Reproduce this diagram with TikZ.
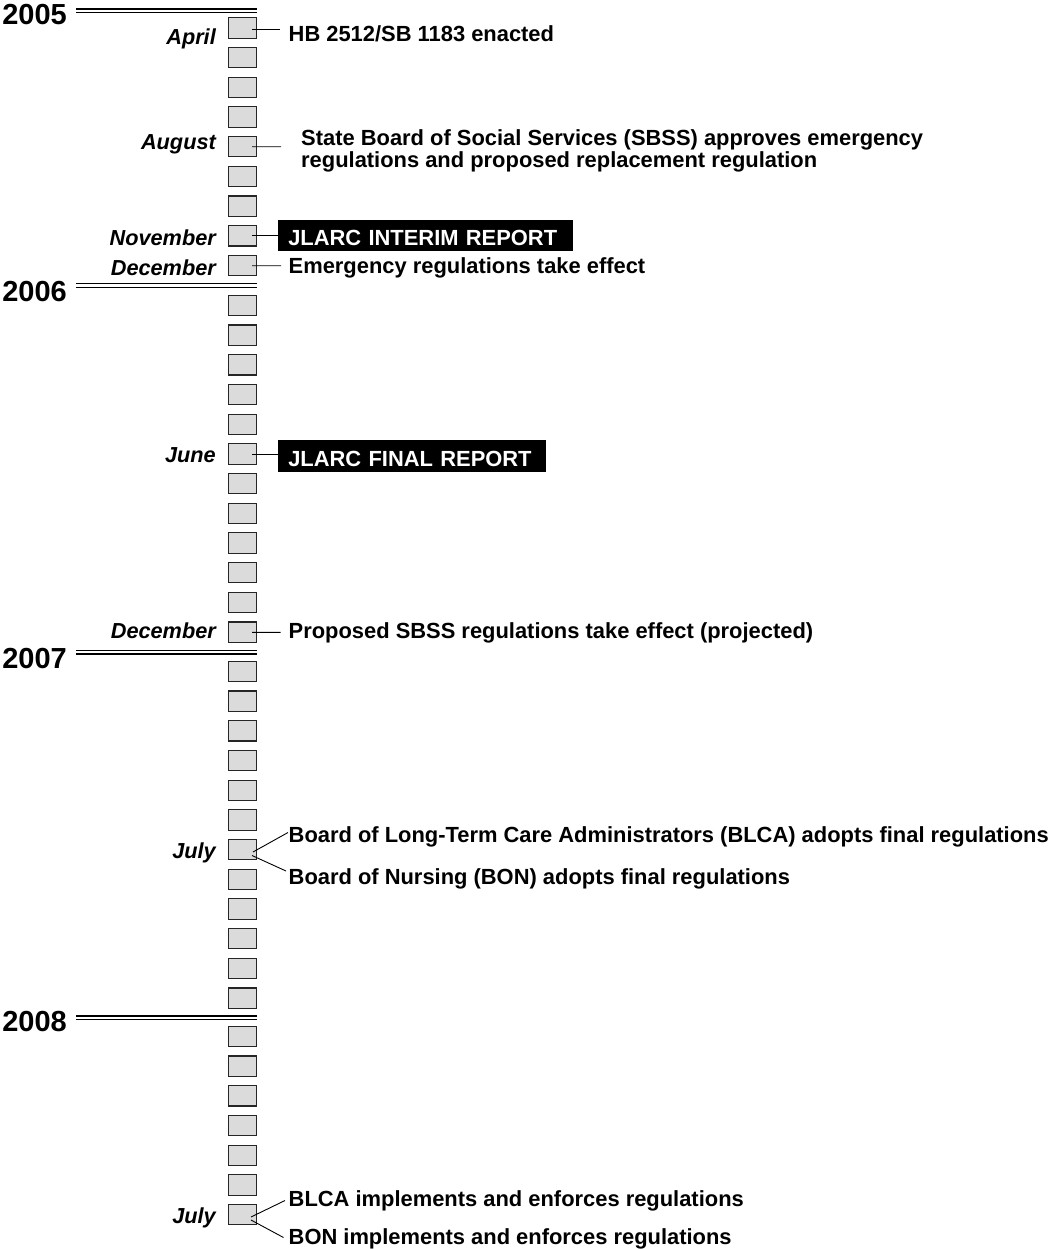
\documentclass[tikz,border=0pt]{standalone}
\usepackage{fontspec}
\setmainfont{Liberation Sans}
\usetikzlibrary{calc}
\newcommand{\evfont}{\fontsize{21.9}{24}\selectfont\bfseries}
\newcommand{\monfont}{\fontsize{21.7}{24}\selectfont\bfseries\itshape}
\newcommand{\yrfont}{\fontsize{29}{32}\selectfont\bfseries}
\begin{document}
\begin{tikzpicture}[x=1pt,y=-1pt,
  mbox/.style={draw=black!85, fill=black!14, line width=1.1pt, minimum width=28.5pt, minimum height=20.3pt, inner sep=0pt, outer sep=0pt},
  evt/.style={font=\evfont, anchor=base west, inner sep=0pt},
  mon/.style={font=\monfont, anchor=base east, inner sep=0pt},
  yr/.style={font=\yrfont, anchor=base east, inner sep=0pt},
  conn/.style={line width=0.9pt, draw=black},
  ylineA/.style={line width=1.6pt, draw=black},
  ylineB/.style={line width=1.2pt, draw=black},
  rep/.style={fill=black, text=white, font=\evfont, anchor=base west, inner xsep=10pt, inner ysep=0pt, text depth=5.7pt, outer sep=0pt}
]
\useasboundingbox (0,0) rectangle (1055,1249);

% year separators
\foreach \c/\n in {10.7/y5, 285.3/y6, 652.2/y7, 1017.5/y8}{
  \coordinate (\n l) at (76,\c);
  \coordinate (\n r) at (257.3,\c);
  \draw[ylineA] ($(\n l)+(0,-1.8)$) -- ($(\n r)+(0,-1.8)$);
  \draw[ylineB] ($(\n l)+(0,1.8)$) -- ($(\n r)+(0,1.8)$);
}
\node[yr] (Y2005) at (67,25) {2005};
\node[yr] (Y2006) at (67,301.5) {2006};
\node[yr] (Y2007) at (67,668) {2007};
\node[yr] (Y2008) at (67,1031.5) {2008};

% month boxes
\foreach \i in {0,...,8}{\node[mbox] (a\i) at (242.5,{28+\i*29.7}) {};}
\foreach \i in {0,...,11}{\node[mbox] (b\i) at (242.5,{305.4+\i*29.7}) {};}
\foreach \i in {0,...,11}{\node[mbox] (c\i) at (242.5,{671.4+\i*29.7}) {};}
\foreach \i in {0,...,6}{\node[mbox] (d\i) at (242.5,{1036.4+\i*29.7}) {};}

% month labels
\node[mon] (mApr) at (216,45) {April};
\node[mon] (mAug) at (216,149.5) {August};
\node[mon] (mNov) at (216,246) {November};
\node[mon] (mDec) at (216,275) {December};
\node[mon] (mJun) at (216,462.5) {June};
\node[mon] (mDecB) at (216,638.5) {December};
\node[mon] (mJul) at (216,858) {July};
\node[mon] (mJulB) at (216,1223) {July};

% events
\node[evt] (tApr) at (288.5,42) {HB 2512/SB 1183 enacted};
\draw[conn] ($(a0.center)+(9.5,1.3)$) -- ($(tApr.base west)+(-8.5,-12.7)$);

\node[evt] (tSB1) at (301,145.5) {State Board of Social Services (SBSS) approves emergency};
\node[evt] (tSB2) at (301,168) {regulations and proposed replacement regulation};
\draw[conn] ($(a4.center)+(9.5,0)$) -- ($(tSB1.base west)+(-20,1.3)$);

\node[rep, text height=25pt, text width=275pt] (rInt) at (278.3,245) {JLARC INTERIM REPORT};
\draw[conn] ($(a7.center)+(9.5,-0.5)$) coordinate (sNov) -- (sNov -| rInt.west);

\node[evt] (tDec) at (288.5,273.4) {Emergency regulations take effect};
\draw[conn] ($(a8.center)+(9.5,0.1)$) -- ($(tDec.base west)+(-7.5,-7.7)$);

\node[rep, text height=26pt, text width=247.7pt] (rFin) at (278.3,466) {JLARC FINAL REPORT};
\draw[conn] ($(b5.center)+(9.5,1)$) coordinate (sJun) -- (sJun -| rFin.west);

\node[evt] (tProp) at (288.5,638.5) {Proposed SBSS regulations take effect (projected)};
\draw[conn] ($(b11.center)+(9.5,0.2)$) -- ($(tProp.base west)+(-8,-6.2)$);

\node[evt] (tBL) at (288.5,842) {Board of Long-Term Care Administrators (BLCA) adopts final regulations};
\node[evt] (tBON) at (288.5,884.5) {Board of Nursing (BON) adopts final regulations};
\draw[conn] ($(c6.center)+(10.5,2.4)$) -- ($(tBL.base west)+(-0.5,-9.5)$);
\draw[conn] ($(c6.center)+(9.5,5.9)$) -- ($(tBON.base west)+(-2.5,-13.5)$);

\node[evt] (tBLi) at (288.5,1206) {BLCA implements and enforces regulations};
\node[evt] (tBONi) at (288.5,1244.5) {BON implements and enforces regulations};
\draw[conn] ($(d6.center)+(8.5,2.4)$) -- ($(tBLi.base west)+(-3.5,-5.5)$);
\draw[conn] ($(d6.center)+(8.5,5.4)$) -- ($(tBONi.base west)+(-5,-7)$);
\end{tikzpicture}
\end{document}
